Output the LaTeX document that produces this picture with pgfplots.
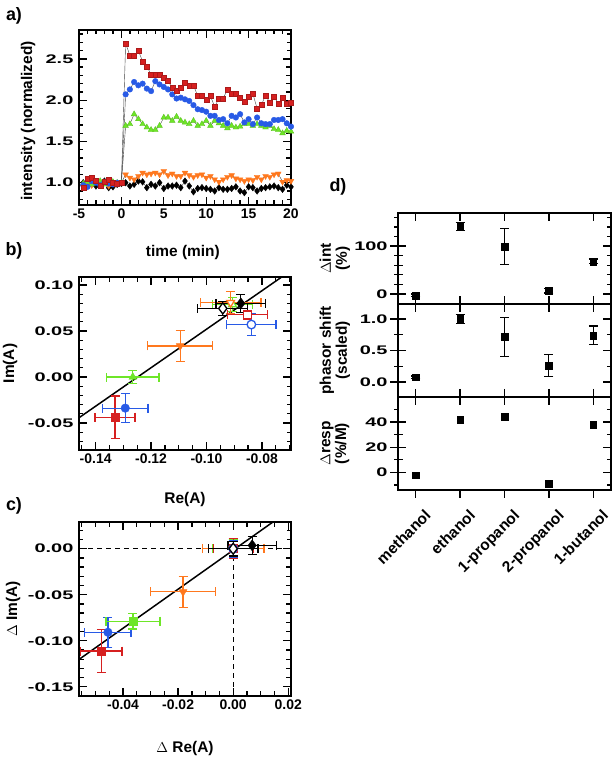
\documentclass[border=0pt]{standalone}
\usepackage{fontspec}
\setmainfont{Liberation Sans}
\usepackage{pgfplots}
\usepackage{pgfplotstable}
\pgfplotsset{compat=1.18}
\definecolor{cred}{RGB}{214,32,32}
\definecolor{cblue}{RGB}{40,90,230}
\definecolor{cgreen}{RGB}{110,230,40}
\definecolor{corange}{RGB}{255,120,30}

\pgfplotstableread{
t r b g o k
-4.5 0.94 0.97 0.99 0.95 1.00
-4.0 1.05 0.95 1.01 1.00 0.97
-3.5 1.06 1.02 0.98 0.97 0.99
-3.0 1.03 1.00 1.00 1.02 0.96
-2.5 0.96 0.97 1.02 0.98 0.98
-2.0 1.01 1.01 0.98 1.00 1.02
-1.5 1.04 0.99 0.99 0.96 0.94
-1.0 1.00 0.98 1.01 0.99 0.95
-0.5 0.99 1.00 1.00 1.01 0.98
0.0 1.00 1.00 1.00 1.00 0.99
0.5 2.69 2.07 1.69 1.10 1.00
1.0 2.54 2.13 1.71 1.06 0.96
1.5 2.54 2.22 1.83 1.04 0.98
2.0 2.60 2.18 1.77 1.08 1.02
2.5 2.47 2.20 1.71 1.12 1.01
3.0 2.41 2.14 1.67 1.10 0.94
3.5 2.31 2.11 1.64 1.11 0.98
4.0 2.31 2.23 1.64 1.12 0.96
4.5 2.31 2.19 1.69 1.10 1.00
5.0 2.27 2.16 1.79 1.14 0.93
5.5 2.23 2.13 1.79 1.09 0.96
6.0 2.15 2.07 1.75 1.11 0.96
6.5 2.11 2.02 1.80 1.08 0.97
7.0 2.15 2.03 1.75 1.08 0.94
7.5 2.21 2.01 1.73 1.12 1.02
8.0 2.17 1.99 1.71 1.09 0.96
8.5 2.18 1.94 1.75 1.07 0.89
9.0 2.05 1.89 1.69 1.09 0.93
9.5 2.06 1.88 1.71 1.10 0.94
10.0 2.00 1.86 1.75 1.06 0.93
10.5 2.05 1.81 1.69 1.08 0.92
11.0 1.92 1.81 1.75 1.04 0.90
11.5 2.02 1.76 1.72 1.01 0.94
12.0 2.02 1.77 1.69 1.04 0.92
12.5 2.13 1.72 1.66 1.07 0.92
13.0 2.08 1.81 1.69 1.09 0.93
13.5 2.08 1.79 1.67 1.05 0.95
14.0 2.03 1.83 1.68 1.04 0.90
14.5 1.98 1.73 1.71 1.02 0.88
15.0 2.04 1.77 1.71 1.04 0.95
15.5 2.08 1.71 1.69 1.03 0.94
16.0 1.90 1.79 1.71 1.07 0.90
16.5 1.94 1.72 1.69 1.04 0.93
17.0 2.06 1.71 1.67 1.08 0.94
17.5 1.97 1.71 1.69 1.07 0.95
18.0 2.04 1.76 1.65 1.10 0.96
18.5 1.96 1.76 1.64 1.11 0.94
19.0 2.03 1.77 1.60 1.01 0.92
19.5 1.96 1.72 1.63 1.03 0.97
20.0 1.97 1.68 1.62 1.02 0.95
}\tseries

\pgfplotsset{
  myaxis/.style={
    scale only axis, anchor=south west,
    axis line style={line width=1.5pt},
    tick style={line width=1.3pt, black},
    tick align=inside, major tick length=8bp, minor tick length=4.5bp,
    xticklabel style={font=\bfseries\fontsize{14}{14}\selectfont},
    yticklabel style={font=\bfseries\fontsize{12.5}{12.5}\selectfont, xscale=1.6},
    /pgf/number format/assume math mode=true,
    every axis y label/.style={rotate=90, anchor=center, align=center, font=\bfseries\fontsize{15.5}{16}\selectfont},
    every axis x label/.style={anchor=center, font=\bfseries\fontsize{15.5}{16}\selectfont},
  },
  ebar/.style={error bars/.cd, x dir=both, x explicit, y dir=both, y explicit,
     error bar style={line width=1.2pt, #1},
     error mark options={rotate=90, line width=1.2pt, #1, mark size=4.5bp}},
  tkv/.style 2 args={forget plot, only marks, mark=none, mark size=0pt, mark options={draw=none, fill=none}, black,
     error bars/.cd, y dir=#1, y fixed=#2, error mark=none,
     error bar style={line width=1.3pt, black, solid}},
  tkh/.style 2 args={forget plot, only marks, mark=none, mark size=0pt, mark options={draw=none, fill=none}, black,
     error bars/.cd, x dir=#1, x fixed=#2, error mark=none,
     error bar style={line width=1.3pt, black, solid}},
}

\begin{document}
\begin{tikzpicture}
\useasboundingbox (0,0) rectangle (614bp,757bp);

% ---------- a ----------
\begin{axis}[myaxis, at={(79bp,552bp)}, width=212bp, height=175bp,
  xmin=-5, xmax=20, ymin=0.73, ymax=2.85,
  xtick={-5,0,...,20}, minor x tick num=4,
  ytick={1,1.5,2,2.5}, minor y tick num=4,
  yticklabel style={/pgf/number format/.cd, fixed, fixed zerofill, precision=1},
  xlabel={time (min)}, ylabel={intensity (normalized)},
  xlabel style={at={(axis description cs:0.49,-0.274)}},
  ylabel style={at={(axis description cs:-0.24,0.48)}}]
\addplot[tkv={plus}{0.097}] coordinates {(-5,0.73)(0,0.73)(5,0.73)(10,0.73)(15,0.73)(20,0.73)};
\addplot[tkv={minus}{0.097}] coordinates {(-5,2.85)(0,2.85)(5,2.85)(10,2.85)(15,2.85)(20,2.85)};
\addplot[tkv={plus}{0.0545}] coordinates {(-4,0.73)(-3,0.73)(-2,0.73)(-1,0.73)(1,0.73)(2,0.73)(3,0.73)(4,0.73)(6,0.73)(7,0.73)(8,0.73)(9,0.73)(11,0.73)(12,0.73)(13,0.73)(14,0.73)(16,0.73)(17,0.73)(18,0.73)(19,0.73)};
\addplot[tkv={minus}{0.0545}] coordinates {(-4,2.85)(-3,2.85)(-2,2.85)(-1,2.85)(1,2.85)(2,2.85)(3,2.85)(4,2.85)(6,2.85)(7,2.85)(8,2.85)(9,2.85)(11,2.85)(12,2.85)(13,2.85)(14,2.85)(16,2.85)(17,2.85)(18,2.85)(19,2.85)};
\addplot[tkh={plus}{0.943}] coordinates {(-5,1)(-5,1.5)(-5,2)(-5,2.5)};
\addplot[tkh={minus}{0.943}] coordinates {(20,1)(20,1.5)(20,2)(20,2.5)};
\addplot[tkh={plus}{0.53}] coordinates {(-5,0.8)(-5,0.9)(-5,1.1)(-5,1.2)(-5,1.3)(-5,1.4)(-5,1.6)(-5,1.7)(-5,1.8)(-5,1.9)(-5,2.1)(-5,2.2)(-5,2.3)(-5,2.4)(-5,2.6)(-5,2.7)(-5,2.8)};
\addplot[tkh={minus}{0.53}] coordinates {(20,0.8)(20,0.9)(20,1.1)(20,1.2)(20,1.3)(20,1.4)(20,1.6)(20,1.7)(20,1.8)(20,1.9)(20,2.1)(20,2.2)(20,2.3)(20,2.4)(20,2.6)(20,2.7)(20,2.8)};
\addplot[draw=black!75, line width=0.4pt, mark=diamond*, mark size=3.3bp, mark options={draw=black, fill=black}] table[x=t,y=k]{\tseries};
\addplot[draw=black!75, line width=0.4pt, mark=triangle*, mark size=3.3bp, mark options={rotate=180, draw=corange, fill=corange}] table[x=t,y=o]{\tseries};
\addplot[draw=black!75, line width=0.4pt, mark=triangle*, mark size=3.3bp, mark options={draw=cgreen!85!black, fill=cgreen}] table[x=t,y=g]{\tseries};
\addplot[draw=black!75, line width=0.4pt, mark=*, mark size=2.8bp, mark options={draw=cblue, fill=cblue}] table[x=t,y=b]{\tseries};
\addplot[draw=black!75, line width=0.4pt, mark=square*, mark size=2.5bp, mark options={draw=cred!80!black, fill=cred}] table[x=t,y=r]{\tseries};
\end{axis}

% ---------- b ----------
\begin{axis}[myaxis, at={(79bp,307bp)}, width=212bp, height=173bp,
  xmin=-0.146, xmax=-0.0695, ymin=-0.0793, ymax=0.1087,
  xtick={-0.14,-0.12,-0.10,-0.08}, minor x tick num=3,
  ytick={-0.05,0,0.05,0.10}, minor y tick num=4,
  xticklabel style={/pgf/number format/.cd, fixed, fixed zerofill, precision=2},
  yticklabel style={/pgf/number format/.cd, fixed, fixed zerofill, precision=2},
  scaled ticks=false,
  xlabel={Re(A)}, ylabel={Im(A)},
  xlabel style={at={(axis description cs:0.5,-0.289)}},
  ylabel style={at={(axis description cs:-0.325,0.5)}}]
\addplot[tkv={plus}{0.0087}] coordinates {(-0.14,-0.0793)(-0.12,-0.0793)(-0.10,-0.0793)(-0.08,-0.0793)};
\addplot[tkv={minus}{0.0087}] coordinates {(-0.14,0.1087)(-0.12,0.1087)(-0.10,0.1087)(-0.08,0.1087)};
\addplot[tkv={plus}{0.0049}] coordinates {(-0.145,-0.0793)(-0.135,-0.0793)(-0.13,-0.0793)(-0.125,-0.0793)(-0.115,-0.0793)(-0.11,-0.0793)(-0.105,-0.0793)(-0.095,-0.0793)(-0.09,-0.0793)(-0.085,-0.0793)(-0.075,-0.0793)(-0.07,-0.0793)};
\addplot[tkv={minus}{0.0049}] coordinates {(-0.145,0.1087)(-0.135,0.1087)(-0.13,0.1087)(-0.125,0.1087)(-0.115,0.1087)(-0.11,0.1087)(-0.105,0.1087)(-0.095,0.1087)(-0.09,0.1087)(-0.085,0.1087)(-0.075,0.1087)(-0.07,0.1087)};
\addplot[tkh={plus}{0.0029}] coordinates {(-0.146,-0.05)(-0.146,0)(-0.146,0.05)(-0.146,0.10)};
\addplot[tkh={minus}{0.0029}] coordinates {(-0.0695,-0.05)(-0.0695,0)(-0.0695,0.05)(-0.0695,0.10)};
\addplot[tkh={plus}{0.0016}] coordinates {(-0.146,-0.07)(-0.146,-0.06)(-0.146,-0.04)(-0.146,-0.03)(-0.146,-0.02)(-0.146,-0.01)(-0.146,0.01)(-0.146,0.02)(-0.146,0.03)(-0.146,0.04)(-0.146,0.06)(-0.146,0.07)(-0.146,0.08)(-0.146,0.09)};
\addplot[tkh={minus}{0.0016}] coordinates {(-0.0695,-0.07)(-0.0695,-0.06)(-0.0695,-0.04)(-0.0695,-0.03)(-0.0695,-0.02)(-0.0695,-0.01)(-0.0695,0.01)(-0.0695,0.02)(-0.0695,0.03)(-0.0695,0.04)(-0.0695,0.06)(-0.0695,0.07)(-0.0695,0.08)(-0.0695,0.09)};
\addplot[black, line width=1.5pt] coordinates {(-0.1465,-0.0453) (-0.0695,0.1157)};
\addplot[only marks, mark=triangle*, mark size=4.5bp, mark options={draw=cgreen, fill=white, line width=1.3pt}, ebar=cgreen] coordinates {(-0.0906,0.0788) +- (0.0073,0.008)};
\addplot[only marks, mark=triangle*, mark size=4.5bp, mark options={rotate=180, draw=corange, fill=white, line width=1.3pt}, ebar=corange] coordinates {(-0.0913,0.0808) +- (0.011,0.012)};
\addplot[only marks, mark=square*, mark size=3.8bp, mark options={draw=cred, fill=white, line width=1.3pt}, ebar=cred] coordinates {(-0.0852,0.0676) +- (0.0072,0.005)};
\addplot[only marks, mark=*, mark size=4.3bp, mark options={draw=cblue, fill=white, line width=1.3pt}, ebar=cblue] coordinates {(-0.0838,0.057) +- (0.0089,0.012)};
\addplot[only marks, mark=diamond*, mark size=5.5bp, mark options={draw=black, fill=white, line width=1.3pt}, ebar=black] coordinates {(-0.0941,0.0745) +- (0.009,0.008)};
\addplot[only marks, mark=square*, mark size=3.8bp, mark options={draw=cred, fill=cred}, ebar=cred] coordinates {(-0.133,-0.0436) +- (0.0072,0.023)};
\addplot[only marks, mark=*, mark size=4.3bp, mark options={draw=cblue, fill=cblue}, ebar=cblue] coordinates {(-0.1293,-0.0338) +- (0.0082,0.016)};
\addplot[only marks, mark=triangle*, mark size=4.5bp, mark options={draw=cgreen, fill=cgreen}, ebar=cgreen] coordinates {(-0.1266,0.0) +- (0.0095,0.0073)};
\addplot[only marks, mark=triangle*, mark size=4.5bp, mark options={rotate=180, draw=corange, fill=corange}, ebar=corange] coordinates {(-0.1095,0.0338) +- (0.0117,0.0167)};
\addplot[only marks, mark=diamond*, mark size=5.5bp, mark options={draw=black, fill=black}, ebar=black] coordinates {(-0.0876,0.080) +- (0.009,0.0096)};
\end{axis}

% ---------- c ----------
\begin{axis}[myaxis, at={(79bp,61bp)}, width=212bp, height=174bp,
  xmin=-0.056, xmax=0.021, ymin=-0.16, ymax=0.029,
  xtick={-0.04,-0.02,0,0.02}, minor x tick num=3,
  ytick={-0.15,-0.10,-0.05,0}, minor y tick num=4,
  xticklabel style={/pgf/number format/.cd, fixed, fixed zerofill, precision=2},
  yticklabel style={/pgf/number format/.cd, fixed, fixed zerofill, precision=2},
  scaled ticks=false,
  xlabel={$\Delta$ Re(A)}, ylabel={$\Delta$ Im(A)},
  xlabel style={at={(axis description cs:0.5,-0.299)}},
  ylabel style={at={(axis description cs:-0.311,0.5)}}]
\addplot[tkv={plus}{0.0087}] coordinates {(-0.04,-0.16)(-0.02,-0.16)(0,-0.16)(0.02,-0.16)};
\addplot[tkv={minus}{0.0087}] coordinates {(-0.04,0.029)(-0.02,0.029)(0,0.029)(0.02,0.029)};
\addplot[tkv={plus}{0.0049}] coordinates {(-0.055,-0.16)(-0.05,-0.16)(-0.045,-0.16)(-0.035,-0.16)(-0.03,-0.16)(-0.025,-0.16)(-0.015,-0.16)(-0.01,-0.16)(-0.005,-0.16)(0.005,-0.16)(0.01,-0.16)(0.015,-0.16)};
\addplot[tkv={minus}{0.0049}] coordinates {(-0.055,0.029)(-0.05,0.029)(-0.045,0.029)(-0.035,0.029)(-0.03,0.029)(-0.025,0.029)(-0.015,0.029)(-0.01,0.029)(-0.005,0.029)(0.005,0.029)(0.01,0.029)(0.015,0.029)};
\addplot[tkh={plus}{0.0029}] coordinates {(-0.056,-0.15)(-0.056,-0.10)(-0.056,-0.05)(-0.056,0)};
\addplot[tkh={minus}{0.0029}] coordinates {(0.021,-0.15)(0.021,-0.10)(0.021,-0.05)(0.021,0)};
\addplot[tkh={plus}{0.0016}] coordinates {(-0.056,-0.14)(-0.056,-0.13)(-0.056,-0.12)(-0.056,-0.11)(-0.056,-0.09)(-0.056,-0.08)(-0.056,-0.07)(-0.056,-0.06)(-0.056,-0.04)(-0.056,-0.03)(-0.056,-0.02)(-0.056,-0.01)(-0.056,0.01)(-0.056,0.02)};
\addplot[tkh={minus}{0.0016}] coordinates {(0.021,-0.14)(0.021,-0.13)(0.021,-0.12)(0.021,-0.11)(0.021,-0.09)(0.021,-0.08)(0.021,-0.07)(0.021,-0.06)(0.021,-0.04)(0.021,-0.03)(0.021,-0.02)(0.021,-0.01)(0.021,0.01)(0.021,0.02)};
\addplot[black, line width=1.2pt, dash pattern=on 5bp off 4bp] coordinates {(-0.056,0) (0.021,0)};
\addplot[black, line width=1.2pt, dash pattern=on 5bp off 4bp] coordinates {(0,-0.16) (0,0)};
\addplot[black, line width=1.5pt] coordinates {(-0.056,-0.1203) (0.021,0.0429)};
\addplot[only marks, mark=triangle*, mark size=4.5bp, mark options={rotate=180, draw=corange, fill=white, line width=1.3pt}, ebar=corange] coordinates {(0,0) +- (0.0112,0.01)};
\addplot[only marks, mark=square*, mark size=3.8bp, mark options={draw=cgreen, fill=white, line width=1.3pt}, ebar=cgreen] coordinates {(0,0) +- (0.0075,0.01)};
\addplot[only marks, mark=square*, mark size=3.8bp, mark options={draw=cred, fill=white, line width=1.3pt}, ebar=cred] coordinates {(0,0) +- (0.0072,0.011)};
\addplot[only marks, mark=*, mark size=4.3bp, mark options={draw=cblue, fill=white, line width=1.3pt}, ebar=cblue] coordinates {(0,0) +- (0.0089,0.009)};
\addplot[only marks, mark=diamond*, mark size=5.5bp, mark options={draw=black, fill=white, line width=1.3pt}, ebar=black] coordinates {(0,0) +- (0.009,0.008)};
\addplot[only marks, mark=square*, mark size=3.8bp, mark options={draw=cred, fill=cred}, ebar=cred] coordinates {(-0.0479,-0.1112) +- (0.0075,0.0233)};
\addplot[only marks, mark=*, mark size=4.3bp, mark options={draw=cblue, fill=cblue}, ebar=cblue] coordinates {(-0.0455,-0.0908) +- (0.0084,0.0163)};
\addplot[only marks, mark=square*, mark size=3.8bp, mark options={draw=cgreen, fill=cgreen}, ebar=cgreen] coordinates {(-0.0364,-0.0788) +- (0.0098,0.0084)};
\addplot[only marks, mark=triangle*, mark size=4.5bp, mark options={rotate=180, draw=corange, fill=corange}, ebar=corange] coordinates {(-0.0182,-0.0469) +- (0.0118,0.017)};
\addplot[only marks, mark=diamond*, mark size=5.5bp, mark options={draw=black, fill=black}, ebar=black] coordinates {(0.0069,0.0036) +- (0.0088,0.010)};
\end{axis}

% ---------- d top ----------
\begin{axis}[myaxis, at={(398bp,453bp)}, width=213bp, height=91bp, clip=false,
  xmin=-0.4, xmax=4.4, ymin=-21, ymax=169,
  xtick={0,...,4}, xticklabels={},
  ytick={0,100}, minor y tick num=4,
  yticklabel style={xshift=-3bp},
  ylabel={$\Delta$int\\(\%)},
  ylabel style={at={(axis description cs:-0.296,0.5)}}]
\addplot[tkv={minus}{14.6}] coordinates {(0,169)(1,169)(2,169)(3,169)(4,169)};
\addplot[tkv={plus}{16.7}] coordinates {(0,-21)(1,-21)(2,-21)(3,-21)(4,-21)};
\addplot[tkh={minus}{0.18}] coordinates {(-0.4,0)(-0.4,100)(4.4,0)(4.4,100)};
\addplot[tkh={minus}{0.101}] coordinates {(-0.4,20)(-0.4,40)(-0.4,60)(-0.4,80)(-0.4,120)(-0.4,140)(-0.4,160)(4.4,20)(4.4,40)(4.4,60)(4.4,80)(4.4,120)(4.4,140)(4.4,160)};
\addplot[only marks, mark=square*, mark size=3.4bp, black,
  error bars/.cd, y dir=both, y explicit, error bar style={line width=1.2pt}, error mark options={rotate=90, line width=1.2pt, mark size=4.5bp}]
  coordinates {(0,-3) +- (0,3) (1,141) +- (0,8) (2,99) +- (0,37) (3,7) +- (0,5) (4,68) +- (0,5)};
\end{axis}

% ---------- d middle ----------
\begin{axis}[myaxis, at={(398bp,360bp)}, width=213bp, height=93bp, clip=false,
  xmin=-0.4, xmax=4.4, ymin=-0.24, ymax=1.24,
  xtick={0,...,4}, xticklabels={},
  ytick={0,0.5,1}, minor y tick num=1,
  yticklabel style={xshift=-3bp, /pgf/number format/.cd, fixed, fixed zerofill, precision=1},
  ylabel={phasor shift\\(scaled)},
  ylabel style={at={(axis description cs:-0.296,0.5)}}]
\addplot[tkv={minus}{0.127}] coordinates {(0,1.24)(1,1.24)(2,1.24)(3,1.24)(4,1.24)};
\addplot[tkv={plus}{0.127}] coordinates {(0,-0.24)(1,-0.24)(2,-0.24)(3,-0.24)(4,-0.24)};
\addplot[tkh={minus}{0.18}] coordinates {(-0.4,0)(-0.4,0.5)(-0.4,1)(4.4,0)(4.4,0.5)(4.4,1)};
\addplot[tkh={minus}{0.101}] coordinates {(-0.4,0.25)(-0.4,0.75)(4.4,0.25)(4.4,0.75)};
\addplot[only marks, mark=square*, mark size=3.4bp, black,
  error bars/.cd, y dir=both, y explicit, error bar style={line width=1.2pt}, error mark options={rotate=90, line width=1.2pt, mark size=4.5bp}]
  coordinates {(0,0.075) +- (0,0.02) (1,1.0) +- (0,0.07) (2,0.72) +- (0,0.31) (3,0.26) +- (0,0.17) (4,0.74) +- (0,0.15)};
\end{axis}

% ---------- d bottom ----------
\begin{axis}[myaxis, at={(398bp,267bp)}, width=213bp, height=93bp, clip=false,
  xmin=-0.4, xmax=4.4, ymin=-14, ymax=60,
  xtick={0,...,4}, xtick align=outside,
  xticklabels={methanol,ethanol,1-propanol,2-propanol,1-butanol},
  xticklabel style={xshift=8bp, yshift=-9bp, rotate=45, anchor=north east, inner sep=1pt, font=\bfseries\fontsize{15.5}{15.5}\selectfont},
  ytick={0,20,40}, minor y tick num=1,
  yticklabel style={xshift=-3bp},
  ylabel={$\Delta$resp\\(\%/M)},
  ylabel style={at={(axis description cs:-0.296,0.5)}}]
\addplot[tkv={minus}{6.37}] coordinates {(0,60)(1,60)(2,60)(3,60)(4,60)};
\addplot[tkv={minus}{5.57}] coordinates {(0,-14)(1,-14)(2,-14)(3,-14)(4,-14)};
\addplot[tkh={minus}{0.18}] coordinates {(-0.4,0)(-0.4,20)(-0.4,40)(4.4,0)(4.4,20)(4.4,40)};
\addplot[tkh={minus}{0.101}] coordinates {(-0.4,-10)(-0.4,10)(-0.4,30)(-0.4,50)(4.4,-10)(4.4,10)(4.4,30)(4.4,50)};
\addplot[only marks, mark=square*, mark size=3.4bp, black]
  coordinates {(0,-2.2) (1,41.8) (2,44.5) (3,-8.8) (4,38.2)};
\end{axis}

% panel letters
\node[font=\bfseries\fontsize{18}{18}\selectfont] at (14bp,741bp) {a)};
\node[font=\bfseries\fontsize{18}{18}\selectfont] at (14bp,506bp) {b)};
\node[font=\bfseries\fontsize{18}{18}\selectfont] at (14bp,251bp) {c)};
\node[font=\bfseries\fontsize{18}{18}\selectfont] at (338bp,570bp) {d)};
\end{tikzpicture}
\end{document}
